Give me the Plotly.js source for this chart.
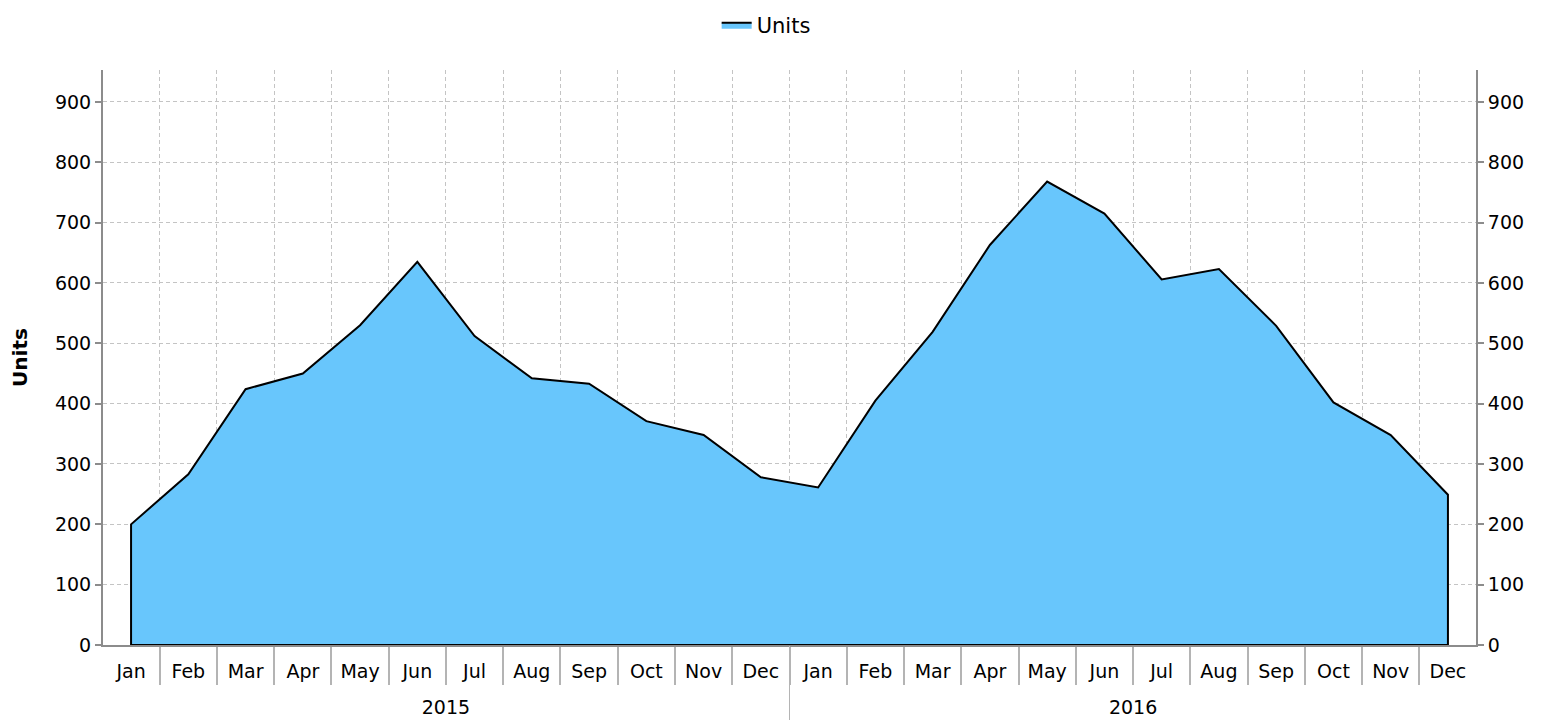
<!DOCTYPE html>
<html><head><meta charset="utf-8">
<script src="https://cdn.plot.ly/plotly-3.0.1.min.js"></script>
<style>html,body{margin:0;padding:0;background:#fff}#chart{width:1548px;height:720px}</style>
</head><body><div id="chart"></div>
<script>
const years = ['2015', '2016'];
const months = ['Jan', 'Feb', 'Mar', 'Apr', 'May', 'Jun', 'Jul', 'Aug', 'Sep', 'Oct', 'Nov', 'Dec'];
const units2015 = [200, 283, 424, 450, 530, 635, 512, 442, 433, 371, 348, 278];
const units2016 = [261, 405, 519, 663, 768, 715, 606, 623, 529, 402, 348, 249];
const seriesName = 'Units';
const yTickVals = [0, 100, 200, 300, 400, 500, 600, 700, 800, 900];

const keys = [], monthText = [], yearOf = [], yVals = [];
const seriesByYear = [units2015, units2016];
years.forEach((yr, i) => {
  months.forEach((m, j) => {
    keys.push(m + ' ' + yr); monthText.push(m); yearOf.push(yr); yVals.push(seriesByYear[i][j]);
  });
});
const n = yVals.length;
const polyX = [keys[0], ...keys, keys[n - 1], keys[0]];
const polyY = [0, ...yVals, 0, 0];

const font = 'DejaVu Sans, sans-serif';
const axisGray = '#8c8c8c';
const gridGray = '#c4c4c4';
const sepGray = '#b4b4b4';
const gridDash = '4px,3px';

const traces = [
  {
    type: 'scatter', mode: 'lines', name: seriesName,
    x: polyX, y: polyY,
    fill: 'toself', fillcolor: 'rgb(104,198,252)',
    line: {color: '#000000', width: 2},
    hoverinfo: 'skip'
  },
  { // carries the right-hand value axis
    type: 'scatter', mode: 'lines', showlegend: false,
    x: keys, y: yVals, yaxis: 'y2',
    line: {color: 'rgba(0,0,0,0)', width: 0}, hoverinfo: 'skip'
  },
  { // carries the year axis
    type: 'scatter', mode: 'lines', showlegend: false,
    x: yearOf, y: yVals, xaxis: 'x2',
    line: {color: 'rgba(0,0,0,0)', width: 0}, hoverinfo: 'skip'
  }
];

const yCommon = {
  range: [0, 953], tickvals: yTickVals, ticks: 'outside', ticklen: 6, tickwidth: 2,
  tickcolor: axisGray, showline: true, linecolor: axisGray, linewidth: 2,
  zeroline: false, tickfont: {family: font, size: 19, color: '#000'}
};

const layout = {
  width: 1548, height: 720,
  margin: {l: 103, r: 72, t: 70, b: 75},
  paper_bgcolor: '#ffffff', plot_bgcolor: '#ffffff',
  showlegend: true,
  legend: {orientation: 'h', x: 0.483, xanchor: 'center', y: 0.965, yanchor: 'middle', xref: 'paper',
           yref: 'container', itemwidth: 30, font: {family: font, size: 21, color: '#000'}},
  xaxis: {
    type: 'category', categoryorder: 'array', categoryarray: keys,
    range: [-0.49, n - 1 + 0.49],
    tickmode: 'array', tickvals: keys, ticktext: monthText, tickson: 'boundaries',
    ticks: 'outside', ticklen: 38, tickwidth: 2, tickcolor: sepGray,
    ticklabelstandoff: 8,
    showgrid: true, gridcolor: gridGray, griddash: gridDash, gridwidth: 1,
    showline: true, linecolor: axisGray, linewidth: 2, zeroline: false,
    tickfont: {family: font, size: 19, color: '#000'}
  },
  xaxis2: {
    type: 'category', categoryorder: 'array', categoryarray: years,
    overlaying: 'x', anchor: 'y', side: 'bottom',
    range: [-0.499, years.length - 1 + 0.499],
    tickson: 'boundaries', ticks: 'outside', ticklen: 75, tickwidth: 1, tickcolor: sepGray,
    ticklabelstandoff: 49,
    showgrid: false, showline: false, zeroline: false,
    tickfont: {family: font, size: 19, color: '#000'}
  },
  yaxis: Object.assign({}, yCommon, {
    side: 'left', showgrid: true, gridcolor: gridGray, griddash: gridDash, gridwidth: 1,
    title: {text: '<b>Units</b>', font: {family: font, size: 20, color: '#000'}, standoff: 22}
  }),
  yaxis2: Object.assign({}, yCommon, {
    side: 'right', overlaying: 'y', matches: 'y', showgrid: false
  })
};

Plotly.newPlot('chart', traces, layout, {displayModeBar: false, staticPlot: true});
</script>
</body></html>
